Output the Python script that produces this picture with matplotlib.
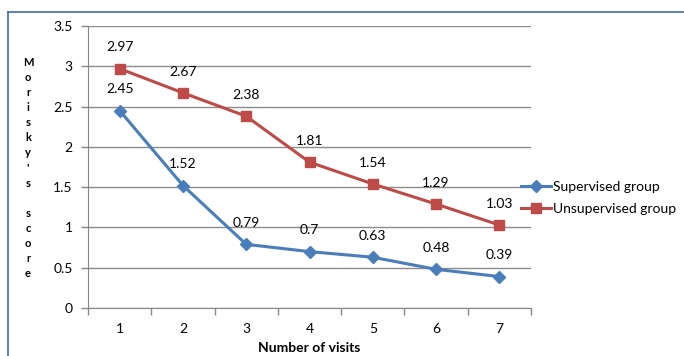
import matplotlib.pyplot as plt
from matplotlib.lines import Line2D

plt.rcParams['font.family'] = ['Lato', 'DejaVu Sans']

visits = [1, 2, 3, 4, 5, 6, 7]
supervised = [2.45, 1.52, 0.79, 0.7, 0.63, 0.48, 0.39]
unsupervised = [2.97, 2.67, 2.38, 1.81, 1.54, 1.29, 1.03]
y_ticks = [0, 0.5, 1, 1.5, 2, 2.5, 3, 3.5]
y_title = "Morisky's score"

blue = '#4A7EBB'
red = '#BE4B48'

fig = plt.figure(figsize=(6.84, 3.56), dpi=100)
ax = fig.add_axes([0.1287, 0.1348, 0.6476, 0.7922])

ax.plot(visits, supervised, color=blue, lw=2.2, marker='D', ms=6, label='Supervised group')
ax.plot(visits, unsupervised, color=red, lw=2.2, marker='s', ms=7.5, label='Unsupervised group')

for x, v in zip(visits, supervised):
    ax.annotate(f'{v:g}', (x, v), xytext=(0, 11), textcoords='offset points',
                ha='center', va='bottom', fontsize=10)
for x, v in zip(visits, unsupervised):
    ax.annotate(f'{v:g}', (x, v), xytext=(0, 11), textcoords='offset points',
                ha='center', va='bottom', fontsize=10)

ax.set_xlim(0.5, 7.5)
ax.set_ylim(0, 3.5)
ax.set_yticks(y_ticks)
ax.set_yticklabels([f'{t:g}' for t in y_ticks], fontsize=10)
ax.set_xticks(visits)
ax.set_xticklabels([str(v) for v in visits], fontsize=10)
ax.set_xticks([v + 0.5 for v in [0] + visits], minor=True)
ax.tick_params(axis='x', which='major', length=0, pad=11)
ax.tick_params(axis='x', which='minor', length=5, color='#888888', width=1)
ax.tick_params(axis='y', length=5, color='#888888', width=1, pad=6)
ax.grid(axis='y', color='#8C8C8C', lw=1)
ax.set_axisbelow(True)
for s in ['top', 'right']:
    ax.spines[s].set_visible(False)
for s in ['left', 'bottom']:
    ax.spines[s].set_color('#888888')

ax.set_xlabel('Number of visits', fontsize=10, fontweight='bold', labelpad=5)

# vertical stacked y-axis title, one character per line
fig.text(0.041, 0.528, '\n'.join(y_title), ha='center', va='center',
         fontsize=8, fontweight='bold', linespacing=1.45)

handles = [Line2D([], [], color=blue, lw=2.2, marker='D', ms=6),
           Line2D([], [], color=red, lw=2.2, marker='s', ms=7.5)]
fig.legend(handles, ['Supervised group', 'Unsupervised group'],
           loc='center left', bbox_to_anchor=(0.757, 0.444), frameon=False,
           fontsize=10, handlelength=2.2, handletextpad=0.1, labelspacing=0.7,
           borderaxespad=0, borderpad=0.2)

# blue outline along top and left edges
fig.add_artist(Line2D([0.0117, 1.0], [0.966, 0.966], color='#3D6BB5', lw=1.2,
                      transform=fig.transFigure))
fig.add_artist(Line2D([0.0117, 0.0117], [0.0, 0.966], color='#3D6BB5', lw=1.2,
                      transform=fig.transFigure))

fig.savefig('out.png', dpi=100)
